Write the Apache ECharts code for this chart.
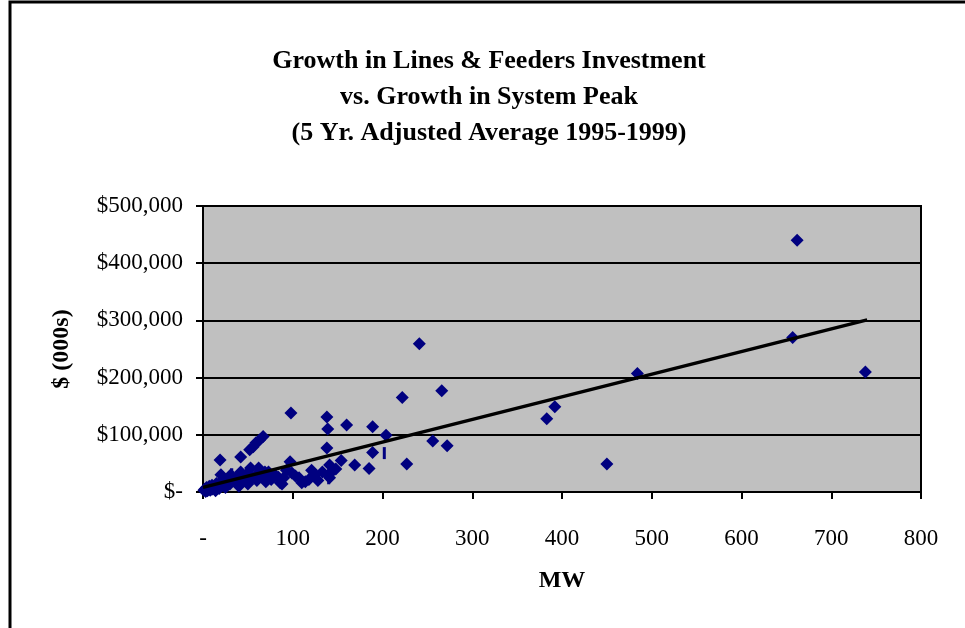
<!DOCTYPE html>
<html>
<head>
<meta charset="utf-8">
<title>Growth in Lines & Feeders Investment</title>
<script src="https://cdn.jsdelivr.net/npm/echarts@6/dist/echarts.min.js"></script>
<style>
  html, body { margin: 0; padding: 0; background: #fff; }
  #chart { width: 965px; height: 628px; }
</style>
</head>
<body>
<div id="chart"></div>
<script>
// MW growth vs. $ (000s) growth
var mwValues = [
  662, 657, 738, 484, 450, 392, 383, 272, 266, 256, 241, 227, 222, 204,
  189, 189, 185, 169, 160, 154, 138, 139, 138, 141, 143, 141, 98, 97,
  19, 42, 52, 56, 59, 63, 67,
  1, 2, 3, 4, 5, 6, 7, 8, 10, 10, 12, 14, 15, 16, 18, 20, 20, 22, 25, 25,
  28, 30, 31, 34, 36, 38, 40, 42, 44, 46, 48, 50, 53, 55, 58, 60, 62, 64,
  66, 69, 70, 73, 76, 80, 84, 86, 88, 90, 93, 99, 103, 107, 110, 114, 118,
  121, 125, 128, 133, 140, 148
];
var investValues = [
  440000, 270000, 210000, 207000, 49000, 149000, 128000, 81000, 177000, 89000, 259000, 49000, 165000, 99000,
  114000, 69000, 41000, 47000, 117000, 55000, 131000, 110000, 77000, 47000, 35000, 25000, 138000, 53000,
  56000, 61000, 74000, 79000, 86000, 91000, 97000,
  3000, 5000, 1000, 8000, 2000, 6000, 10000, 3000, 12000, 5000, 8000, 2000, 15000, 10000, 6000, 18000, 30000, 12000, 16000, 8000,
  22000, 14000, 30000, 20000, 18000, 26000, 10000, 35000, 24000, 20000, 30000, 14000, 42000, 25000, 28000, 20000, 42000, 36000,
  30000, 35000, 18000, 35000, 22000, 30000, 26000, 16000, 14000, 25000, 38000, 33000, 28000, 25000, 16000, 18000, 22000,
  38000, 30000, 20000, 35000, 30000, 40000
];
// short vertical marks seen in the plot
var tickMw = [32, 140, 202];
var tickInvest = [31000, 24000, 68000];
// linear trend line end points
var trendMw = [0, 740];
var trendInvest = [8000, 301000];

var xTicks = [0, 100, 200, 300, 400, 500, 600, 700, 800];
var yTicks = [0, 100000, 200000, 300000, 400000, 500000];

function pairs(xs, ys) {
  var out = [];
  for (var i = 0; i < xs.length; i++) {
    out.push([xs[i], ys[i]]);
  }
  return out;
}

function money(v) {
  if (v === 0) return '$-';
  return '$' + String(v).replace(/\B(?=(\d{3})+(?!\d))/g, ',');
}

var serif = '"Liberation Serif", "Times New Roman", serif';

var myChart = echarts.init(document.getElementById('chart'), null, { renderer: 'canvas' });

var option = {
  animation: false,
  backgroundColor: '#ffffff',
  title: {
    text: 'Growth in Lines & Feeders Investment\nvs. Growth in System Peak\n(5 Yr. Adjusted Average 1995-1999)',
    left: 484,
    top: 38,
    textAlign: 'center',
    textStyle: {
      fontFamily: serif,
      fontWeight: 'bold',
      fontSize: 26,
      lineHeight: 36,
      color: '#000'
    }
  },
  graphic: [{
    type: 'rect',
    shape: { x: 10, y: 2, width: 1000, height: 700 },
    style: { fill: null, stroke: '#000', lineWidth: 3 },
    silent: true
  }],
  grid: {
    left: 203,
    right: 44,
    top: 206,
    bottom: 136,
    show: true,
    backgroundColor: '#c0c0c0',
    borderColor: '#000',
    borderWidth: 2
  },
  xAxis: {
    type: 'value',
    min: xTicks[0],
    max: xTicks[xTicks.length - 1],
    interval: 100,
    name: 'MW',
    nameLocation: 'middle',
    nameGap: 77,
    nameTextStyle: { fontFamily: serif, fontWeight: 'bold', fontSize: 24, color: '#000' },
    axisLine: { lineStyle: { color: '#000', width: 2 } },
    axisTick: { show: true, length: 7, lineStyle: { color: '#000', width: 2 } },
    axisLabel: {
      margin: 35,
      fontFamily: serif,
      fontSize: 23,
      color: '#000',
      formatter: function (v) { return v === 0 ? '-' : String(v); }
    },
    splitLine: { show: false }
  },
  yAxis: {
    type: 'value',
    min: yTicks[0],
    max: yTicks[yTicks.length - 1],
    interval: 100000,
    name: '$ (000s)',
    nameLocation: 'middle',
    nameGap: 129,
    nameRotate: 90,
    nameTextStyle: { fontFamily: serif, fontWeight: 'bold', fontSize: 24, color: '#000' },
    axisLine: { show: true, lineStyle: { color: '#000', width: 2 } },
    axisTick: { show: true, length: 7, lineStyle: { color: '#000', width: 2 } },
    axisLabel: {
      margin: 20,
      fontFamily: serif,
      fontSize: 23,
      color: '#000',
      formatter: money
    },
    splitLine: { show: true, lineStyle: { color: '#000', width: 2 } }
  },
  series: [{
    name: 'Investment',
    type: 'scatter',
    symbol: 'diamond',
    symbolSize: 13,
    itemStyle: { color: '#000080', opacity: 1 },
    data: pairs(mwValues, investValues),
    z: 3
  }, {
    name: 'Marks',
    type: 'scatter',
    symbol: 'rect',
    symbolSize: [3, 12],
    itemStyle: { color: '#000080', opacity: 1 },
    data: pairs(tickMw, tickInvest),
    z: 3
  }, {
    name: 'Linear trend',
    type: 'line',
    symbol: 'none',
    lineStyle: { color: '#000', width: 3.5 },
    data: pairs(trendMw, trendInvest),
    z: 4
  }]
};

myChart.setOption(option);
</script>
</body>
</html>
